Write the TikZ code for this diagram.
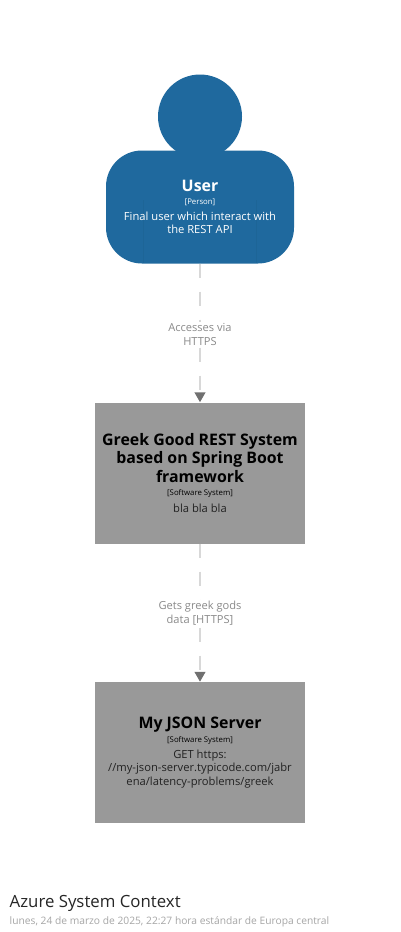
\documentclass[tikz,border=0pt]{standalone}
\usepackage{fontspec}
\setmainfont{Open Sans}
\usetikzlibrary{arrows.meta}
\definecolor{personblue}{HTML}{1F699E}
\definecolor{personedge}{HTML}{1D6597}
\definecolor{sysgray}{HTML}{999999}
\definecolor{linegray}{HTML}{D8D8D8}
\definecolor{tipgray}{HTML}{707070}
\definecolor{labelgray}{HTML}{8A8A8A}
\definecolor{desctext}{HTML}{222222}
\newcommand{\ttlfont}{\fontsize{15.9}{19}\selectfont\bfseries}
\newcommand{\tagfont}{\fontsize{7.8}{10}\selectfont}
\newcommand{\descfont}{\fontsize{11.2}{13.8}\selectfont}
\newcommand{\labfont}{\fontsize{11.1}{13.8}\selectfont}
\tikzset{
  x=1pt,y=-1pt,
  personbody/.style={fill=personblue,draw=none,rounded corners=36pt,minimum width=188pt,minimum height=113pt,inner sep=0pt},
  personhead/.style={circle,fill=personblue,draw=none,minimum size=84pt,inner sep=0pt},
  sysbox/.style={rectangle,fill=sysgray,draw=none,minimum width=210pt,minimum height=141pt,inner sep=0pt,text=black,align=center},
  connector/.style={draw=linegray,line width=2.7pt,dash pattern=on 14pt off 14pt,
    -{Triangle[length=10pt,width=10.5pt,color=tipgray,fill=tipgray]}},
  edgelabel/.style={fill=white,inner sep=1.5pt,text=labelgray,align=center},
  seam/.style={draw=personedge,line width=0.35pt},
}
\begin{document}
\begin{tikzpicture}
\useasboundingbox (0,0) rectangle (400,932);
\fill[white] (0,0) rectangle (400,932);
\node[personhead] (head) at (200,116.5) {};
\node[personbody] (user) at (200,207) {};
\draw[seam] (143,200) -- (143,263) (256,200) -- (256,263);
\node[text=white,align=center,inner sep=0pt] (usertext) at (200,207)
  {\ttlfont User\\[1pt]\tagfont {[Person]}\\[4pt]\descfont Final user which interact with\\[1.2pt]\descfont the REST API};
\node[sysbox] (greek) at (200,473)
  {\ttlfont Greek Good REST System\\[2pt]\ttlfont based on Spring Boot\\[2pt]\ttlfont framework\\[1pt]\tagfont {[Software System]}\\[5pt]\descfont\color{desctext} bla bla bla};
\node[sysbox] (json) at (200,752.5)
  {\raisebox{-1pt}{\ttlfont My JSON Server}\\[2pt]\raisebox{-1pt}{\tagfont [Software System]}\\[4pt]\raisebox{-1pt}{\descfont\color{desctext} GET https:}\\[1.5pt]\raisebox{-1pt}{\descfont\color{desctext} //my-json-server.typicode.com/jabr}\\[1.5pt]\raisebox{-1pt}{\descfont\color{desctext} ena/latency-problems/greek}};
\draw[connector] (user.south) -- (greek.north) node[edgelabel,pos=0.51] (lab1) {\labfont Accesses via\\[2pt]\labfont HTTPS};
\draw[connector] (greek.south) -- (json.north) node[edgelabel,pos=0.505] (lab2) {\labfont Gets greek gods\\[2pt]\labfont data [HTTPS]};
\node[anchor=base west,inner sep=0pt,text=black!85,font=\fontsize{16.8}{20}\selectfont] (title) at (9.5,907.5) {Azure System Context};
\node[anchor=base west,inner sep=0pt,text=black!35,font=\fontsize{10.25}{12}\selectfont] (date) at (9.5,924) {lunes, 24 de marzo de 2025, 22:27 hora estándar de Europa central};
\end{tikzpicture}
\end{document}
